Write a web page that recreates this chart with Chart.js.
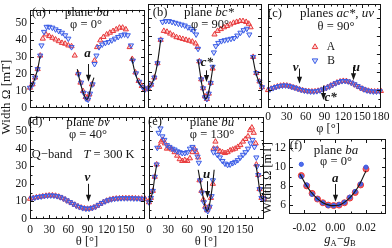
<!DOCTYPE html>
<html><head><meta charset="utf-8">
<script src="https://cdn.jsdelivr.net/npm/chart.js@4/dist/chart.umd.min.js"></script>
<style>
html,body{margin:0;padding:0;background:#fff;}
#wrap{position:relative;width:392px;height:248px;overflow:hidden;background:#fff;}
canvas{position:absolute;left:0;top:0;}
</style></head><body><div id="wrap">
<canvas id="ca" width="392" height="248"></canvas>
<canvas id="cb" width="392" height="248"></canvas>
<canvas id="cc" width="392" height="248"></canvas>
<canvas id="cd" width="392" height="248"></canvas>
<canvas id="ce" width="392" height="248"></canvas>
<canvas id="cf" width="392" height="248"></canvas>
</div>
<script>
// ---------------- DATA ----------------
// (a) plane ba, phi = 0
const aThetaA = [0,4,8,12,16, 20,25,30,35,40,45,50,55,60,65,70, 75,79,83,87,90,93,97, 101,105,110,115,120,125,130,135,140,145,150,156, 160,165,170,175,180];
const aWidthA = [12,14,18,23,31, 41,43.5,42.5,41.5,40.5,39.5,38.5,38,37,36.5,31, 20.5,15,10,6.5,5.5,8,14, 28,36,40,42,43.5,44.5,45.5,46.5,47.5,47.5,46.5,36, 29,21,16,13,11];
const aThetaB = [0,4,8,12,16, 18,22,26,30,35,40,45,50,55,60,65, 76,80,84,88,91,94,98, 101,104,108,113,118,123,128,133,138,143,148,153,158, 161,166,171,176,180];
const aWidthB = [12,14,18,23,31, 37,45,48,48,47.5,46.5,45.5,44.5,43,41,36, 20,15,9,5.5,5,8.5,14, 26,31,36,37.5,38.5,39,40,41,42,43,43.5,43,37, 28,20.5,15.5,12.5,11];
const aFitTheta = [0,4,8,12,16,17, 74,78,82,86,89,92,96,100, 101, 159,164,169,174,180];
const aFitWidth = [11.5,14,18,23,31,null, 23,16,10.5,6.5,5,7,13,18, null, 30,21.5,16,13,11];

// (b) plane bc*, phi = 90
const bThetaA = [0,5,10,15,20, 25,30,35,40,45,50,55,60,65,70,75,78, 81,84,87,90,93,96,99,102, 105,110,115,120,125,130,135,140,145,150,155,159,162, 166,171,176,180];
const bWidthA = [11,13,17,25,38, 43,42.5,41.5,40.5,39.5,39,38.5,38,37.5,37,36,34, 26,16,11,6.5,5,8,14,22, 41,43,44,45,45.7,46.6,47.5,48,48.5,48.5,48,47,45, 28.5,19.5,14.8,11.6];
const bThetaB = [0,5,10,15,20, 23,28,33,38,43,48,53,58,63,68,72,76,79, 81,84,87,90,93,96,99,102, 104,107,111,116,121,126,131,136,141,146,151,156,160, 166,171,176,180];
const bWidthB = [11,13,17,25,38, 48,48.5,48.5,48,47.5,47,46.5,46,45,44,43,41,33, 26,16,11,6,5,8,14,23, 31,34.5,36.3,37.3,37.8,38.2,38.6,39,40.4,42,43.4,44.2,41, 28.5,19.5,14.8,11.6];
const bFitTheta = [0,5,10,15,20,21, 79,82,85,88,91,94,97,100,103, 104, 165,170,175,180];
const bFitWidth = [11,13,17,25,38,null, 27,20,13,8,5,6.5,11,17,24, null, 29,20,14.8,11.6];

// (c) planes ac*, uv, theta = 90
const cPhiA = [0,5,10,15,20,25,30,35,40,45,50,55,60,65,70,75,80,85,90,95,100,105,110,115,120,125,130,135,140,145,150,155,160,165,170,175,180];
const cWidthA = [10.0,10.8,11.4,12.0,12.4,12.6,12.5,12.1,11.5,11.0,10.4,9.9,9.5,9.3,9.2,9.3,9.6,10.1,10.8,11.6,12.5,13.4,14.2,14.8,15.1,15.0,14.5,13.7,12.7,11.7,10.8,10.1,9.6,9.3,9.2,9.3,9.5];
const cPhiB = [3,8,13,18,23,28,33,38,43,48,53,58,63,68,73,78,83,88,93,98,103,108,113,118,123,128,133,138,143,148,153,158,163,168,173,178];
const cWidthB = [10.4,11.1,11.7,12.2,12.5,12.6,12.3,11.8,11.3,10.7,10.1,9.7,9.4,9.2,9.2,9.4,9.8,10.4,11.2,12.0,12.9,13.8,14.5,15.0,15.1,14.8,14.1,13.2,12.2,11.2,10.4,9.8,9.4,9.2,9.2,9.4];

// (d) plane bv, phi = 40
const dThetaA = [0,5,10,15,20,25,30,35,40,45,50,55,60,65,70,75,80,85,90,95,100,105,110,115,120,125,130,135,140,145,150,155,160,165,170,175,180];
const dWidthA = [11.5,11.9,12.3,12.6,12.9,13.2,13.4,13.4,13.2,12.7,12.0,11.1,10.1,9.1,8.1,7.2,6.5,6.0,5.8,6.0,6.6,7.5,8.6,9.6,10.4,11.0,11.4,11.6,11.7,11.8,11.8,11.8,11.8,11.7,11.6,11.6,11.5];
const dThetaB = [2.5,7.5,12.5,17.5,22.5,27.5,32.5,37.5,42.5,47.5,52.5,57.5,62.5,67.5,72.5,77.5,82.5,87.5,92.5,97.5,102.5,107.5,112.5,117.5,122.5,127.5,132.5,137.5,142.5,147.5,152.5,157.5,162.5,167.5,172.5,177.5];
const dWidthB = [11.7,12.1,12.5,12.8,13.1,13.3,13.4,13.3,13.0,12.4,11.6,10.6,9.6,8.6,7.6,6.8,6.2,5.9,5.9,6.3,7.0,8.0,9.1,10.0,10.7,11.2,11.5,11.7,11.8,11.8,11.8,11.8,11.7,11.7,11.6,11.5];

// (e) plane bu, phi = 130
const eThetaA = [0,3,6,9,12, 16,19,22,25,28,32,36,40,44,48,52,56,60,64,68,71,74,77, 79,82,85,88,91,94,97,100, 101,104,107,111,115,119,123,127,131,135,139,143,147,151,155,158,161,164,167, 168,171,173,176,180];
const eWidthA = [9.5,12,16,24,31, 41,44,45,43,40,40.5,39.5,38,36,34,33,33.5,33,34.5,38,40,38,35, 22,16,11,7,5,7,12,20, 40,44,40,38.5,38,37.5,38,39,39.5,40,41,42,44,45.5,47,50.5,52,49,43, 31,25,17,12,11.5];
const eThetaB = [0,3,6,9,12, 13,15,18,21,24,28,32,36,40,44,48,52,56,60,64,68,72,76,78, 80,83,86,89,92,95,98,100, 101,104,107,111,115,119,123,127,131,135,139,143,147,151,155,159,162,165,168, 169,171,173,176,180];
const eWidthB = [9.5,12,16,24,31, 40.5,49,51.5,47,45,42,41,40,39.5,38.5,38,37.5,37.5,38,40,41,39,35.5,32, 22,15,9.5,5.5,4.5,7,13,22, 38,40,36.5,35,33,31.5,30.8,31,31.8,32.5,33.5,35,36.5,38,40,43,45,41,35, 30,25,17,12,11.5];
const eFitTheta = [0,3,6,9,12,13, 77,81,85,88,91,94,97,100,102, 103, 167,170,173,176,180];
const eFitWidth = [9.5,12,16,24,31,null, 28,20,12,7,4.5,7,13,21,28, null, 31,25,17,12,11.5];

// (f) plane ba, width vs gA - gB
const fGapA = [-0.022,-0.0185,-0.015,-0.0115,-0.008,-0.0045,-0.001,0.0025,0.006,0.0095,0.013,0.0165,0.02];
const fWidthA = [9.1,8.0,7.2,6.6,6.2,5.95,5.9,5.95,6.2,6.7,7.3,8.1,9.8];
const fGapB = [-0.022,-0.022,-0.0185,-0.015,-0.0115,-0.008,-0.0045,-0.001,0.0025,0.006,0.0095,0.013,0.0165,0.02];
const fWidthB = [10.3,9.0,8.1,7.1,6.6,6.2,5.9,5.9,6.0,6.25,6.8,7.4,8.2,10.0];
const fFitGap = [-0.023,-0.02,-0.016,-0.012,-0.008,-0.004,0,0.004,0.008,0.012,0.016,0.02];
const fFitWidth = [9.3,8.4,7.4,6.7,6.2,5.95,5.9,6.05,6.5,7.2,8.2,9.6];

// tick labels
const widthTicks = [0,10,20,30,40,50];
const thetaTicks = [0,30,60,90,120,150];
const phiTicks = [0,30,60,90,120,150,180];
const gapTicks = [-0.02,0,0.02];
const fWidthTicks = [6,8,10,12];

// ---------------- DRAWING ----------------
const FONT = '"Liberation Serif", "DejaVu Serif", serif';
const RED = '#e8383a', BLUE = '#3a5ce6', INK = '#151515';
const W = 392, H = 248;

function pts(xs, ys){ return xs.map((x,i)=>({x:x, y:ys[i]})); }
function fontFor(st, size){
  const sub = st.indexOf('s') >= 0;
  const sz = sub ? size*0.68 : size;
  return (st.indexOf('i')>=0?'italic ':'') + (st.indexOf('b')>=0?'bold ':'') + sz.toFixed(1) + 'px ' + FONT;
}
function drawRich(ctx, segs, cx, cy, size, rot){
  ctx.save(); ctx.translate(cx, cy); if (rot) ctx.rotate(rot);
  ctx.textBaseline = 'middle'; ctx.textAlign = 'left'; ctx.fillStyle = INK;
  let w = 0;
  segs.forEach(s => { ctx.font = fontFor(s[1]||'', size); w += ctx.measureText(s[0]).width; });
  let xx = -w/2;
  segs.forEach(s => { const st = s[1]||''; ctx.font = fontFor(st, size);
    const dy = st.indexOf('s')>=0 ? size*0.3 : 0;
    ctx.fillText(s[0], xx, dy); xx += ctx.measureText(s[0]).width; });
  ctx.restore();
}
function triPath(ctx, x, y, r, down){
  const s = down ? -1 : 1;
  ctx.beginPath();
  ctx.moveTo(x, y - s*r);
  ctx.lineTo(x + r*0.87, y + s*r*0.5);
  ctx.lineTo(x - r*0.87, y + s*r*0.5);
  ctx.closePath();
}

const framePlugin = {
  id: 'frame',
  afterDatasetsDraw(chart, args, o){
    const ctx = chart.ctx, a = chart.chartArea, xs = chart.scales.x, ys = chart.scales.y;
    ctx.save();
    ctx.strokeStyle = INK; ctx.lineWidth = 1;
    ctx.strokeRect(Math.round(a.left)+0.5, Math.round(a.top)+0.5, Math.round(a.right-a.left)-1, Math.round(a.bottom-a.top)-1);
    ctx.beginPath();
    const eps = 1e-9;
    const x0 = Math.ceil(xs.min / o.xMinor - 1e-6) * o.xMinor;
    for (let i = 0, v = x0; v <= xs.max + eps; i++, v = x0 + i*o.xMinor){
      const major = Math.abs(v/o.xMajor - Math.round(v/o.xMajor)) < 1e-6;
      const p = Math.round(xs.getPixelForValue(v)) + 0.5;
      if (p <= a.left+1 || p >= a.right-1) continue;
      const len = major ? 4 : 2.5;
      ctx.moveTo(p, a.bottom); ctx.lineTo(p, a.bottom - len);
      ctx.moveTo(p, a.top); ctx.lineTo(p, a.top + len);
    }
    const y0 = Math.ceil(ys.min / o.yMinor - 1e-6) * o.yMinor;
    for (let i = 0, v = y0; v <= ys.max + eps; i++, v = y0 + i*o.yMinor){
      const major = Math.abs(v/o.yMajor - Math.round(v/o.yMajor)) < 1e-6;
      const p = Math.round(ys.getPixelForValue(v)) + 0.5;
      if (p <= a.top+1 || p >= a.bottom-1) continue;
      const len = major ? 4 : 2.5;
      ctx.moveTo(a.left, p); ctx.lineTo(a.left + len, p);
      ctx.moveTo(a.right, p); ctx.lineTo(a.right - len, p);
    }
    ctx.stroke();
    ctx.restore();
  }
};

const annotPlugin = {
  id: 'annot',
  afterDraw(chart, args, o){
    const ctx = chart.ctx, xs = chart.scales.x, ys = chart.scales.y;
    (o.arrows||[]).forEach(ar => {
      const px = Math.round(xs.getPixelForValue(ar.x)) + 0.5;
      const p1 = ys.getPixelForValue(ar.from), p2 = ys.getPixelForValue(ar.to);
      ctx.save(); ctx.strokeStyle = INK; ctx.fillStyle = INK; ctx.lineWidth = 1;
      ctx.beginPath(); ctx.moveTo(px, p1); ctx.lineTo(px, p2 - 5); ctx.stroke();
      ctx.beginPath(); ctx.moveTo(px - 2.6, p2 - 7); ctx.lineTo(px + 2.6, p2 - 7); ctx.lineTo(px, p2); ctx.closePath(); ctx.fill();
      ctx.restore();
      if (ar.label) drawRich(ctx, ar.label, xs.getPixelForValue(ar.lx), ys.getPixelForValue(ar.ly), ar.size || 13);
    });
    (o.legend||[]).forEach(l => {
      ctx.save(); ctx.lineWidth = 1; ctx.strokeStyle = l.color; ctx.fillStyle = l.fill;
      triPath(ctx, l.x, l.y, 3.2, l.down); ctx.fill(); ctx.stroke(); ctx.restore();
      drawRich(ctx, [[l.text,'']], l.tx, l.y, 11.5);
    });
    (o.texts||[]).forEach(t => drawRich(ctx, t.segs, t.x, t.y, t.size || 12, t.rot || 0));
  }
};

function makePanel(p){
  const ds = [];
  if (p.fit) ds.push({ data: pts(p.fit[0], p.fit[1]), showLine: true, borderColor: INK, borderWidth: 1.1,
    pointRadius: 0, tension: 0.25, order: 0, clip: 1, spanGaps: false });
  const circ = p.marker === 'circle';
  ds.push({ data: pts(p.B[0], p.B[1]), order: 1, clip: 3,
    pointStyle: circ ? 'circle' : 'triangle', pointRotation: circ ? 0 : 180,
    pointRadius: circ ? 2.1 : 3, pointBorderWidth: 1,
    pointBorderColor: BLUE, pointBackgroundColor: circ ? 'rgba(70,100,235,0.95)' : 'rgba(80,110,235,0.22)',
    borderColor: BLUE, backgroundColor: BLUE });
  ds.push({ data: pts(p.A[0], p.A[1]), order: 2, clip: 3,
    pointStyle: circ ? 'circle' : 'triangle', pointRotation: 0,
    pointRadius: 3, pointBorderWidth: 1,
    pointBorderColor: RED, pointBackgroundColor: circ ? 'rgba(235,70,70,0.85)' : 'rgba(235,70,70,0.22)',
    borderColor: RED, backgroundColor: RED });
  const axis = (ax, horiz) => ({
    type: 'linear', min: ax.min, max: ax.max,
    afterFit: s => { if (horiz) s.height = H - p.area.b; else s.width = p.area.l; },
    afterBuildTicks: s => { s.ticks = (ax.labels || []).map(v => ({ value: v })); },
    ticks: { display: !!ax.labels, padding: ax.pad || 3, color: INK, autoSkip: false, maxRotation: 0,
      font: { family: FONT, size: ax.fsize || 11.5 },
      callback: v => ax.fmt ? ax.fmt(v) : String(v) },
    grid: { display: false, drawTicks: false }, border: { display: false }
  });
  new Chart(document.getElementById(p.id), {
    type: 'scatter',
    data: { datasets: ds },
    options: {
      responsive: false, animation: false, events: [],
      layout: { autoPadding: false, padding: { left: 0, top: p.area.t, right: W - p.area.r, bottom: 0 } },
      plugins: { legend: { display: false }, tooltip: { enabled: false },
        frame: { xMajor: p.x.major, xMinor: p.x.minor, yMajor: p.y.major, yMinor: p.y.minor },
        annot: { texts: p.texts, arrows: p.arrows, legend: p.legend } },
      scales: { x: axis(p.x, true), y: axis(p.y, false) }
    },
    plugins: [framePlugin, annotPlugin]
  });
}

const yTop = { min: 0, max: 58, major: 10, minor: 5 };
const thetaAx = { min: 0, max: 180, major: 30, minor: 10 };

makePanel({ id: 'ca', area: { l: 30, r: 145, t: 4, b: 108 },
  x: thetaAx, y: Object.assign({ labels: widthTicks, pad: 3 }, yTop),
  A: [aThetaA, aWidthA], B: [aThetaB, aWidthB], fit: [aFitTheta, aFitWidth],
  arrows: [{ x: 90, from: 26, to: 15.5, label: [['a','bi']], lx: 90, ly: 32 }],
  texts: [
    { segs: [['(a)','']], x: 39, y: 13, size: 12.5 },
    { segs: [['plane ',''],['ba','i']], x: 87, y: 13, size: 13 },
    { segs: [['φ = 0°','']], x: 86, y: 25, size: 12.5 },
    { segs: [['Width Ω [mT]','']], x: 7, y: 97, size: 13, rot: -Math.PI/2 }
  ] });

makePanel({ id: 'cb', area: { l: 148, r: 262, t: 4, b: 108 },
  x: thetaAx, y: yTop,
  A: [bThetaA, bWidthA], B: [bThetaB, bWidthB], fit: [bFitTheta, bFitWidth],
  arrows: [{ x: 92, from: 21, to: 14.5, label: [['c*','bi']], lx: 93, ly: 25.5 }],
  texts: [
    { segs: [['(b)','']], x: 160, y: 13, size: 12.5 },
    { segs: [['plane ',''],['bc*','i']], x: 209, y: 13, size: 13 },
    { segs: [['φ = 90°','']], x: 210, y: 25, size: 12.5 }
  ] });

makePanel({ id: 'cc', area: { l: 268, r: 387, t: 4, b: 108 },
  x: Object.assign({ labels: phiTicks, pad: 2.5 }, { min: 0, max: 180, major: 30, minor: 10 }), y: yTop,
  A: [cPhiA, cWidthA], B: [cPhiB, cWidthB],
  arrows: [
    { x: 50, from: 22, to: 13.5, label: [['v','bi']], lx: 44, ly: 22.5 },
    { x: 88, from: 12.5, to: 4.5, label: [['c*','bi']], lx: 100, ly: 6 },
    { x: 136, from: 23, to: 15.5, label: [['u','bi']], lx: 141, ly: 22.5 }
  ],
  legend: [
    { x: 315, y: 47, tx: 331, color: RED, fill: 'rgba(235,70,70,0.22)', down: false, text: 'A' },
    { x: 315, y: 60.5, tx: 331, color: BLUE, fill: 'rgba(80,110,235,0.22)', down: true, text: 'B' }
  ],
  texts: [
    { segs: [['(c)','']], x: 275, y: 14, size: 12.5 },
    { segs: [['planes ',''],['ac*','i'],[', ',''],['uv','i']], x: 337, y: 14, size: 13 },
    { segs: [['θ = 90°','']], x: 336, y: 27, size: 12.5 },
    { segs: [['φ [°]','']], x: 328, y: 129, size: 12.5 }
  ] });

const yBot = { min: 0, max: 58, major: 10, minor: 5 };

makePanel({ id: 'cd', area: { l: 30, r: 145, t: 117, b: 219 },
  x: Object.assign({ labels: thetaTicks, pad: 4.5 }, thetaAx), y: Object.assign({ labels: widthTicks, pad: 3 }, yBot),
  A: [dThetaA, dWidthA], B: [dThetaB, dWidthB],
  arrows: [{ x: 90, from: 20, to: 9.8, label: [['v','bi']], lx: 90, ly: 23.5 }],
  texts: [
    { segs: [['(d)','']], x: 35, y: 122, size: 12.5 },
    { segs: [['plane ',''],['bv','i']], x: 88, y: 123, size: 13 },
    { segs: [['φ = 40°','']], x: 88, y: 135, size: 12.5 },
    { segs: [['Q−band','']], x: 52, y: 155, size: 12.5 },
    { segs: [['T','i'],[' = 300 K','']], x: 109, y: 155, size: 12.5 },
    { segs: [['θ [°]','']], x: 87, y: 242, size: 12.5 }
  ] });

makePanel({ id: 'ce', area: { l: 149, r: 264, t: 117, b: 219 },
  x: Object.assign({ labels: thetaTicks, pad: 4.5 }, thetaAx), y: yBot,
  A: [eThetaA, eWidthA], B: [eThetaB, eWidthB], fit: [eFitTheta, eFitWidth],
  arrows: [{ x: 91, from: 21.5, to: 12, label: [['u','bi']], lx: 90, ly: 25 }],
  texts: [
    { segs: [['(e)','']], x: 155, y: 122, size: 12.5 },
    { segs: [['plane ',''],['bu','i']], x: 212, y: 123, size: 13 },
    { segs: [['φ = 130°','']], x: 212, y: 135, size: 12.5 },
    { segs: [['θ [°]','']], x: 206, y: 242, size: 12.5 }
  ] });

makePanel({ id: 'cf', area: { l: 289, r: 386, t: 139, b: 214 },
  x: { min: -0.03, max: 0.033, major: 0.02, minor: 0.01, labels: gapTicks, pad: 7, fmt: v => v.toFixed(2) },
  y: { min: 5, max: 13, major: 2, minor: 1, labels: fWidthTicks, pad: 3 },
  marker: 'circle',
  A: [fGapA, fWidthA], B: [fGapB, fWidthB], fit: [fFitGap, fFitWidth],
  arrows: [{ x: 0, from: 8.2, to: 6.3, label: [['a','bi']], lx: 0, ly: 8.8 }],
  texts: [
    { segs: [['(f)','']], x: 296, y: 146, size: 12.5 },
    { segs: [['plane ',''],['ba','i']], x: 336, y: 151, size: 13 },
    { segs: [['φ = 0°','']], x: 336, y: 162, size: 12.5 },
    { segs: [['Width Ω [mT]','']], x: 268, y: 178, size: 12.5, rot: -Math.PI/2 },
    { segs: [['g','i'],['A','s'],['−',''],['g','i'],['B','s']], x: 340, y: 240, size: 12.5 }
  ] });
</script>
</body></html>
